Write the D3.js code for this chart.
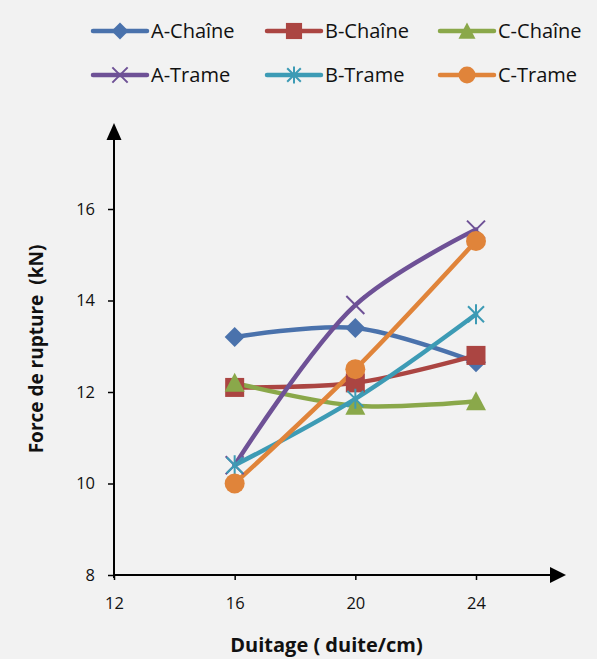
<!DOCTYPE html>
<html><head><meta charset="utf-8">
<script src="https://cdn.jsdelivr.net/npm/d3@7"></script>
<style>body{margin:0;background:#f2f2f2;}svg{display:block;}</style>
</head><body>
<svg id="c" width="597" height="659"></svg>
<script>
const xValues = [16, 20, 24];
const seriesNames = ["A-Chaîne", "B-Chaîne", "C-Chaîne", "A-Trame", "B-Trame", "C-Trame"];
const aChaine = [13.2, 13.4, 12.65];
const bChaine = [12.1, 12.2, 12.8];
const cChaine = [12.2, 11.7, 11.8];
const aTrame = [10.4, 13.9, 15.55];
const bTrame = [10.4, 11.85, 13.7];
const cTrame = [10.0, 12.5, 15.3];
const xTicks = [12, 16, 20, 24];
const yTicks = [8, 10, 12, 14, 16];

const colors = ["#4a72ac", "#ab4542", "#8aa84a", "#6e5196", "#3d9bb5", "#e0843a"];
const markers = ["diamond", "square", "triangle", "x", "star", "circle"];
const allValues = [aChaine, bChaine, cChaine, aTrame, bTrame, cTrame];
const series = seriesNames.map((n, i) => ({name: n, values: allValues[i], color: colors[i], marker: markers[i]}));

const svg = d3.select("#c");
const font = "'Open Sans', sans-serif";
const x = d3.scaleLinear().domain([12, 24]).range([114, 476]);
const y = d3.scaleLinear().domain([8, 16]).range([575, 209]);

// axes
const ax = svg.append("g").attr("transform", "translate(0,575)");
ax.call(d3.axisBottom(x).tickValues(xTicks).tickSize(5).tickFormat(d3.format("d")));
ax.select(".domain").remove();
ax.selectAll(".tick line").attr("stroke", "#000").attr("stroke-width", 1.5);
ax.selectAll(".tick text").attr("font-family", font).attr("font-size", 16.5).attr("fill", "#111").attr("y", 34).attr("dy", 0);
svg.append("line").attr("x1", 114).attr("x2", 552).attr("y1", 575).attr("y2", 575).attr("stroke", "#000").attr("stroke-width", 2);
svg.append("path").attr("d", "M550,567 L566,575 L550,583 Z").attr("fill", "#000");

const ay = svg.append("g").attr("transform", "translate(114,0)");
ay.call(d3.axisLeft(y).tickValues(yTicks).tickSize(6).tickFormat(d3.format("d")));
ay.select(".domain").remove();
ay.selectAll(".tick line").attr("stroke", "#000").attr("stroke-width", 1.5);
ay.selectAll(".tick text").attr("font-family", font).attr("font-size", 16.5).attr("fill", "#111").attr("x", -19);
svg.append("line").attr("x1", 114).attr("x2", 114).attr("y1", 578).attr("y2", 138).attr("stroke", "#000").attr("stroke-width", 2);
svg.append("path").attr("d", "M106.5,140 L114,123 L121.5,140 Z").attr("fill", "#000");

svg.append("text").attr("x", 326.5).attr("y", 651.5).attr("text-anchor", "middle").attr("font-family", font)
  .attr("font-weight", "bold").attr("font-size", 20).attr("fill", "#111").text("Duitage ( duite/cm)");
svg.append("text").attr("transform", "translate(43,349) rotate(-90)").attr("text-anchor", "middle").attr("font-family", font)
  .attr("font-weight", "bold").attr("font-size", 19).attr("fill", "#111").attr("xml:space", "preserve").text("Force de rupture  (kN)");

function drawMarker(g, type, cx, cy, color, s) {
  s = s || 1;
  if (type === "diamond") g.append("path").attr("d", `M${cx},${cy-10*s} L${cx+10*s},${cy} L${cx},${cy+10*s} L${cx-10*s},${cy} Z`).attr("fill", color);
  else if (type === "square") g.append("rect").attr("x", cx-9.5*s).attr("y", cy-9.5*s).attr("width", 19*s).attr("height", 19*s).attr("fill", color);
  else if (type === "triangle") g.append("path").attr("d", `M${cx},${cy-10*s} L${cx+10*s},${cy+9*s} L${cx-10*s},${cy+9*s} Z`).attr("fill", color);
  else if (type === "circle") g.append("circle").attr("cx", cx).attr("cy", cy).attr("r", 10*s).attr("fill", color);
  else if (type === "x") g.append("path").attr("d", `M${cx-9*s},${cy-9*s} L${cx+9*s},${cy+9*s} M${cx-9*s},${cy+9*s} L${cx+9*s},${cy-9*s}`).attr("stroke", color).attr("stroke-width", 2);
  else if (type === "star") g.append("path").attr("d", `M${cx-8*s},${cy-8*s} L${cx+8*s},${cy+8*s} M${cx-8*s},${cy+8*s} L${cx+8*s},${cy-8*s} M${cx},${cy-10*s} L${cx},${cy+10*s}`).attr("stroke", color).attr("stroke-width", 2);
}

const line = d3.line().x((d, i) => x(xValues[i])).y(d => y(d)).curve(d3.curveCatmullRom.alpha(0.5));
const plot = svg.append("g");
series.forEach(s => {
  plot.append("path").attr("d", line(s.values)).attr("fill", "none").attr("stroke", s.color).attr("stroke-width", 4.5).attr("stroke-linecap", "round");
});
series.forEach(s => {
  s.values.forEach((v, i) => drawMarker(plot, s.marker, x(xValues[i]), y(v), s.color));
});

// legend
const legX = [93, 267, 440];
const legY = [31, 75];
series.forEach((s, i) => {
  const lx = legX[i % 3], ly = legY[Math.floor(i / 3)];
  const g = svg.append("g");
  g.append("line").attr("x1", lx).attr("x2", lx + 54).attr("y1", ly).attr("y2", ly).attr("stroke", s.color).attr("stroke-width", 4.5).attr("stroke-linecap", "round");
  drawMarker(g, s.marker, lx + 27, ly, s.color, 0.85);
  g.append("text").attr("x", lx + 58).attr("y", ly).attr("dy", "0.34em").attr("font-family", font).attr("font-size", 20).attr("fill", "#111").text(s.name);
});
</script>
</body></html>
